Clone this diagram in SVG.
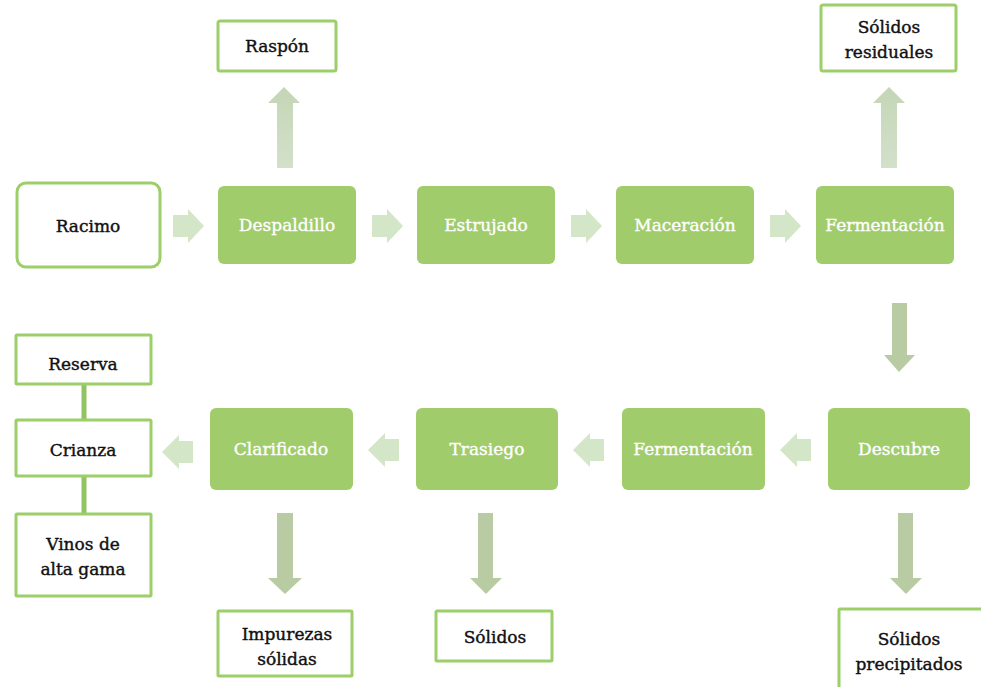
<svg xmlns="http://www.w3.org/2000/svg" width="981" height="687" viewBox="0 0 981 687">
<defs>
<style>
.g{fill:#a1cc6c;}
.o{fill:#fff;stroke:#9ccf6a;stroke-width:3;}
.tw{font-family:"DejaVu Serif",serif;font-size:17px;fill:#fff;stroke:#fff;stroke-width:0.35;text-anchor:middle;}
.tb{font-family:"DejaVu Serif",serif;font-size:17px;fill:#111;stroke:#111;stroke-width:0.4;text-anchor:middle;}
.ah{fill:#d3e6c8;}
.au{fill:url(#gu);}
.ad{fill:#b8cba2;}
.ln{stroke:#93c262;stroke-width:5;}
</style>
<linearGradient id="gu" x1="0" y1="0" x2="0" y2="1">
<stop offset="0" stop-color="#c4d6b6"/>
<stop offset="1" stop-color="#d3e0ca"/>
</linearGradient>
<polygon id="ar" points="0,-11 15,-11 15,-17 31,0 15,17 15,11 0,11"/>
<polygon id="al" points="31,-11 17,-11 17,-17 0,0 17,17 17,11 31,11"/>
</defs>
<rect width="981" height="687" fill="#fff"/>
<g id="connectors">
<use href="#ar" x="173" y="226" class="ah"/>
<use href="#ar" x="372" y="226" class="ah"/>
<use href="#ar" x="571" y="226" class="ah"/>
<use href="#ar" x="770" y="226" class="ah"/>
<use href="#al" x="780" y="450" class="ah"/>
<use href="#al" x="573" y="450" class="ah"/>
<use href="#al" x="368" y="450" class="ah"/>
<use href="#al" x="162" y="452" class="ah"/>
<polygon class="au" points="284,87 300,103 293,103 293,168 277,168 277,103 268,103"/>
<polygon class="au" points="889,87 905,103 897,103 897,168 881,168 881,103 873,103"/>
<polygon class="ad" points="892,303 907,303 907,355 915,355 899,372 884,355 892,355"/>
<polygon class="ad" points="277,513 293,513 293,578 302,578 285,594 268,578 277,578"/>
<polygon class="ad" points="478,513 493,513 493,578 502,578 486,594 470,578 478,578"/>
<polygon class="ad" points="898,513 913,513 913,578 922,578 906,594 890,578 898,578"/>
<line class="ln" x1="84" y1="385" x2="84" y2="419"/>
<line class="ln" x1="84" y1="477" x2="84" y2="513"/>
</g>
<g id="racimo"><rect class="o" x="17" y="183" width="143" height="84" rx="9"/><text class="tb" x="88" y="232">Racimo</text></g>
<g id="despaldillo"><rect class="g" x="218" y="186" width="138" height="78" rx="6"/><text class="tw" x="287" y="231">Despaldillo</text></g>
<g id="estrujado"><rect class="g" x="417" y="186" width="138" height="78" rx="6"/><text class="tw" x="486" y="231">Estrujado</text></g>
<g id="maceracion"><rect class="g" x="616" y="186" width="138" height="78" rx="6"/><text class="tw" x="685" y="231">Maceración</text></g>
<g id="fermentacion1"><rect class="g" x="816" y="186" width="138" height="78" rx="6"/><text class="tw" x="885" y="231">Fermentación</text></g>
<g id="raspon"><rect class="o" x="218" y="21" width="118" height="50" rx="2"/><text class="tb" x="277" y="52">Raspón</text></g>
<g id="solidos-residuales"><rect class="o" x="821" y="5" width="135" height="66" rx="2"/><text class="tb" x="889" y="33">Sólidos</text><text class="tb" x="889" y="58">residuales</text></g>
<g id="descubre"><rect class="g" x="828" y="408" width="142" height="82" rx="6"/><text class="tw" x="899" y="455">Descubre</text></g>
<g id="fermentacion2"><rect class="g" x="622" y="408" width="143" height="82" rx="6"/><text class="tw" x="693" y="455">Fermentación</text></g>
<g id="trasiego"><rect class="g" x="416" y="408" width="142" height="82" rx="6"/><text class="tw" x="487" y="455">Trasiego</text></g>
<g id="clarificado"><rect class="g" x="210" y="408" width="143" height="82" rx="6"/><text class="tw" x="281" y="455">Clarificado</text></g>
<g id="reserva"><rect class="o" x="16" y="335" width="135" height="49" rx="1"/><text class="tb" x="83" y="370">Reserva</text></g>
<g id="crianza"><rect class="o" x="16" y="420" width="135" height="56" rx="1"/><text class="tb" x="83" y="456">Crianza</text></g>
<g id="vinos"><rect class="o" x="16" y="514" width="135" height="82" rx="1"/><text class="tb" x="83" y="550">Vinos de</text><text class="tb" x="83" y="575">alta gama</text></g>
<g id="impurezas"><rect class="o" x="218" y="611" width="134" height="65" rx="1"/><text class="tb" x="287" y="640">Impurezas</text><text class="tb" x="287" y="665">sólidas</text></g>
<g id="solidos"><rect class="o" x="436" y="611" width="116" height="50" rx="1"/><text class="tb" x="495" y="643">Sólidos</text></g>
<g id="solidos-precipitados"><rect class="o" x="839" y="609" width="150" height="85" rx="1"/><text class="tb" x="909" y="645">Sólidos</text><text class="tb" x="909" y="670">precipitados</text></g>
</svg>
